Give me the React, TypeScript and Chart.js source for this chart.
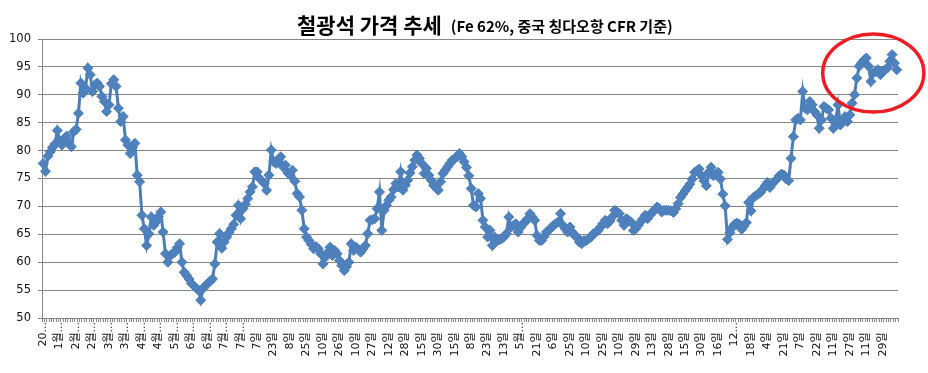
import { useEffect, useRef } from 'react';
import { Chart, registerables } from 'chart.js';

Chart.register(...registerables);

const titleMain = '철광석 가격 추세';
const titleSub = '(Fe 62%, 중국 칭다오항 CFR 기준)';

// x-axis labels shown every 7th category (as displayed, truncated by the original)
const tickLabels = [
  '20...', '1월...', '2월...', '2월...', '3월...', '3월...', '4월...', '4월...', '5월...', '6월...',
  '6월...', '7월...', '7월...', '7일', '23일', '8일', '25일', '10일', '26일', '10일',
  '27일', '12일', '28일', '15일', '30일', '15일', '8일', '23일', '13일', '5월...',
  '21일', '6일', '25일', '10일', '25일', '10일', '29일', '13일', '28일', '15일',
  '30일', '16일', '12...', '18일', '4일', '21일', '7일', '22일', '11일', '27일',
  '11일', '29일',
];
const LABEL_EVERY = 7;

// Iron ore price (USD/t)
const priceValues = [
  77.7, 76.3, 79.0, 79.8, 80.6, 81.2, 83.6, 81.8, 81.0, 82.2,
  82.6, 81.5, 80.7, 83.4, 83.8, 86.7, 92.1, 90.3, 91.2, 94.8,
  93.6, 90.6, 91.8, 92.1, 91.5, 89.7, 88.8, 87.0, 88.2, 92.0,
  92.7, 91.5, 87.6, 85.2, 86.1, 81.9, 81.0, 79.5, 80.6, 81.3,
  75.6, 74.4, 68.4, 66.0, 63.0, 65.1, 68.1, 66.6, 67.2, 68.2,
  69.0, 65.4, 61.5, 60.0, 61.2, 61.5, 61.8, 62.6, 63.3, 60.0,
  58.2, 57.6, 57.0, 56.2, 55.8, 55.4, 55.0, 53.2, 55.3, 55.8,
  56.2, 56.6, 57.0, 59.7, 63.6, 65.1, 62.5, 63.6, 64.5, 65.3,
  66.0, 66.8, 68.4, 70.2, 67.8, 69.6, 70.4, 71.4, 72.6, 73.5,
  76.2, 76.2, 75.0, 74.6, 74.1, 72.9, 75.6, 80.1, 78.0, 77.7,
  78.4, 78.9, 77.1, 77.4, 76.0, 75.6, 76.5, 74.5, 72.3, 71.7,
  69.3, 66.0, 64.5, 63.9, 63.2, 62.4, 62.8, 62.4, 61.5, 59.7,
  60.9, 61.8, 62.7, 61.2, 62.1, 61.5, 60.3, 59.4, 58.5, 59.2,
  60.0, 63.3, 62.1, 62.7, 62.3, 61.8, 62.4, 63.0, 65.1, 67.5,
  67.6, 67.8, 69.6, 72.6, 65.7, 69.3, 70.2, 71.1, 71.7, 73.0,
  74.1, 73.5, 76.2, 72.9, 73.8, 74.7, 76.0, 77.1, 78.3, 79.2,
  78.6, 77.7, 75.9, 76.8, 75.6, 74.7, 73.8, 73.4, 72.9, 74.4,
  75.9, 76.5, 77.1, 77.7, 78.3, 78.6, 78.9, 79.5, 78.9, 78.0,
  77.0, 75.5, 73.2, 70.2, 69.9, 72.3, 71.4, 67.5, 66.3, 64.5,
  65.7, 63.0, 64.5, 63.9, 64.0, 64.2, 64.6, 65.1, 68.1, 66.3,
  66.6, 66.9, 65.4, 66.2, 66.9, 67.2, 67.8, 68.7, 68.1, 67.5,
  64.8, 63.9, 63.9, 64.6, 65.4, 65.7, 66.2, 66.6, 66.9, 67.2,
  68.7, 66.6, 66.0, 65.4, 66.3, 65.4, 64.8, 64.5, 63.6, 63.3,
  63.9, 63.9, 64.2, 64.5, 65.1, 65.4, 65.7, 66.3, 66.9, 67.5,
  66.9, 67.4, 68.1, 69.3, 69.0, 68.7, 67.5, 66.6, 67.8, 67.5,
  67.2, 65.7, 66.0, 66.6, 67.2, 67.8, 68.4, 67.8, 68.4, 69.0,
  69.3, 69.9, 69.6, 69.0, 69.3, 69.3, 69.3, 69.2, 68.9, 69.6,
  70.5, 71.6, 72.2, 72.8, 73.4, 74.0, 74.9, 76.1, 76.4, 76.7,
  75.5, 74.6, 73.7, 76.1, 77.0, 75.5, 75.8, 76.1, 74.9, 72.2,
  70.1, 64.1, 65.3, 66.2, 66.8, 67.0, 66.8, 65.9, 66.5, 67.1,
  70.7, 69.2, 71.6, 71.9, 72.2, 72.5, 73.1, 73.7, 74.3, 73.4,
  74.0, 74.5, 74.9, 75.5, 75.8, 75.6, 74.9, 74.6, 78.6, 82.5,
  85.5, 85.8, 85.5, 90.6, 87.6, 87.3, 88.8, 88.2, 87.0, 86.4,
  84.0, 85.5, 87.9, 87.6, 87.3, 85.8, 84.0, 85.5, 88.2, 84.6,
  85.2, 86.1, 85.2, 86.4, 88.5, 90.0, 93.0, 95.1, 95.7, 96.2,
  96.6, 95.1, 92.4, 93.9, 94.2, 94.5, 93.6, 94.2, 94.5, 94.8,
  96.0, 97.2, 95.7, 94.5,
];

const yMin = 50;
const yMax = 100;
const yStep = 5;

// red ellipse highlight (in data units: category index / price)
const highlightCenterIndex = 353;
const highlightCenterValue = 93.9;
const highlightHalfWidthCats = 21.5;
const highlightHalfHeightUnits = 7;

const categories = priceValues.map((_, i) =>
  i % LABEL_EVERY === 0 ? tickLabels[i / LABEL_EVERY] ?? '' : ''
);

const AXIS_FONT = '"DejaVu Sans", "Noto Sans CJK KR", sans-serif';
const TITLE_FONT = '"Noto Sans CJK KR", "Noto Sans", sans-serif';

const titlePlugin = {
  id: 'koTitle',
  afterDraw(chart: any) {
    const ctx = chart.ctx as CanvasRenderingContext2D;
    ctx.save();
    ctx.fillStyle = '#000';
    ctx.textBaseline = 'alphabetic';
    ctx.textAlign = 'left';
    ctx.font = `bold 21px ${TITLE_FONT}`;
    const x0 = 297;
    ctx.fillText(titleMain, x0, 33);
    const w = ctx.measureText(titleMain).width;
    ctx.font = `bold 15px ${TITLE_FONT}`;
    ctx.fillText(titleSub, x0 + w + 9, 32);
    ctx.restore();
  },
};

const ellipsePlugin = {
  id: 'highlightEllipse',
  afterDraw(chart: any) {
    const xs = chart.scales.x;
    const ys = chart.scales.y;
    const ctx = chart.ctx as CanvasRenderingContext2D;
    const cx = xs.getPixelForValue(highlightCenterIndex);
    const cy = ys.getPixelForValue(highlightCenterValue);
    const step = xs.getPixelForValue(1) - xs.getPixelForValue(0);
    const rx = step * highlightHalfWidthCats;
    const ry = Math.abs(ys.getPixelForValue(highlightCenterValue + highlightHalfHeightUnits) - cy);
    ctx.save();
    ctx.strokeStyle = '#EE1C25';
    ctx.lineWidth = 3.5;
    ctx.beginPath();
    ctx.ellipse(cx, cy, rx, ry, 0, 0, Math.PI * 2);
    ctx.stroke();
    ctx.restore();
  },
};

export default function App() {
  const canvasRef = useRef<HTMLCanvasElement | null>(null);

  useEffect(() => {
    if (!canvasRef.current) return;
    const chart = new Chart(canvasRef.current, {
      type: 'line',
      data: {
        labels: categories,
        datasets: [
          {
            data: priceValues,
            borderColor: '#4A7EBB',
            backgroundColor: '#4F81BD',
            borderWidth: 3,
            pointStyle: 'rectRot',
            pointRadius: 5,
            pointBorderWidth: 1,
            pointBackgroundColor: '#4F81BD',
            pointBorderColor: '#4A7EBB',
            tension: 0,
            fill: false,
          },
        ],
      },
      options: {
        responsive: false,
        animation: false,
        devicePixelRatio: 1,
        layout: { padding: { top: 39, right: 30, left: 0, bottom: 0 } },
        plugins: {
          legend: { display: false },
          title: { display: false },
          tooltip: { enabled: false },
        },
        scales: {
          x: {
            type: 'category',
            offset: true,
            grid: {
              display: true,
              drawOnChartArea: false,
              drawTicks: true,
              tickLength: 4,
              offset: true,
              color: '#868686',
            },
            border: { display: true, color: '#868686', width: 1 },
            ticks: {
              autoSkip: false,
              maxRotation: 90,
              minRotation: 90,
              padding: 0,
              color: '#111',
              font: { family: AXIS_FONT, size: 11 },
              callback: function (this: any, value: any) {
                const s = this.getLabelForValue(value) as string;
                return s.endsWith('일') ? s + '   ' : s;
              },
            },
            afterFit: (s: any) => {
              s.height = 55;
            },
          },
          y: {
            min: yMin,
            max: yMax,
            ticks: {
              stepSize: yStep,
              padding: 7,
              color: '#111',
              font: { family: AXIS_FONT, size: 11.5 },
            },
            grid: { color: '#868686', tickLength: 4 },
            border: { display: true, color: '#868686', width: 1 },
            afterFit: (s: any) => {
              s.width = 42;
            },
          },
        },
      },
      plugins: [titlePlugin, ellipsePlugin],
    } as any);
    return () => chart.destroy();
  }, []);

  return (
    <div
      style={{
        position: 'fixed',
        left: 0,
        top: 0,
        width: 928,
        height: 373,
        background: '#fff',
      }}
    >
      <canvas ref={canvasRef} width={928} height={373} style={{ display: 'block' }} />
    </div>
  );
}
